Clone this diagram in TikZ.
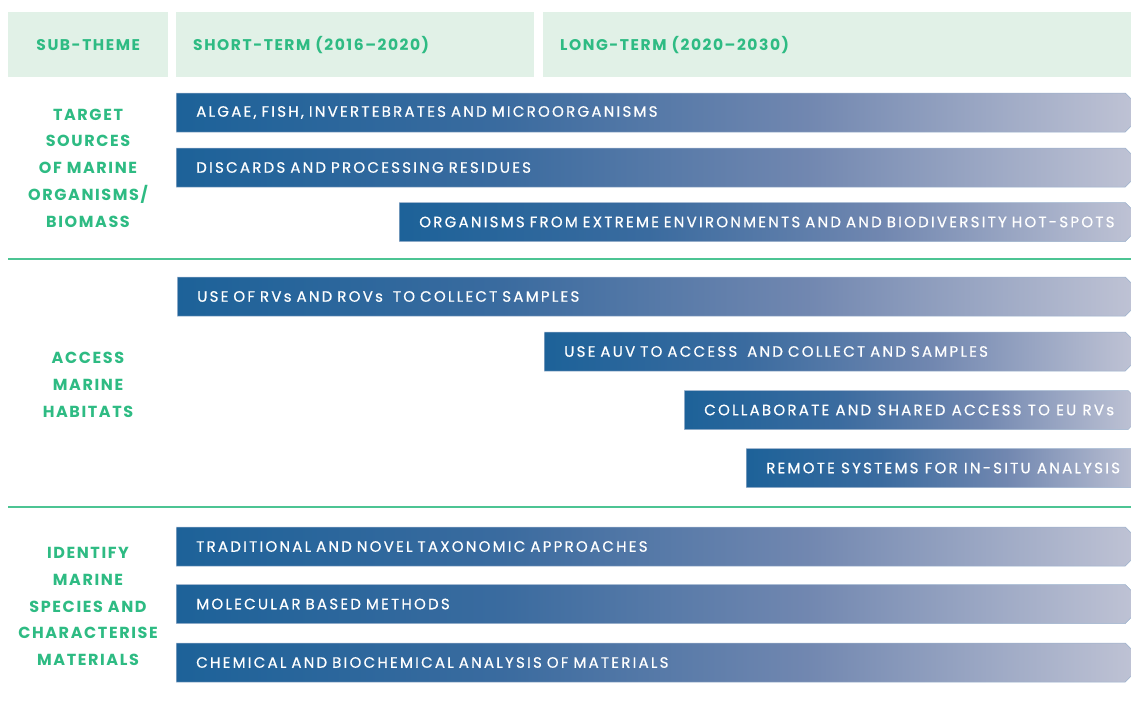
\documentclass[tikz,border=0pt]{standalone}
\usepackage{fontspec}
\usepackage{xcolor}
\usepackage{tikz}
\usetikzlibrary{positioning, shapes.misc}
\setmainfont{Poppins}
\newfontfamily\barfont{Poppins}[LetterSpace=15, FakeBold=0.6]
\newfontfamily\labelfont{Poppins}[LetterSpace=10]

\definecolor{headfill}{HTML}{E1F1E7}
\definecolor{headgreen}{HTML}{2EBB83}
\definecolor{rulegreen}{HTML}{4CC493}
\definecolor{bardark}{HTML}{1D6299}
\definecolor{barA}{HTML}{3A6B9F}
\definecolor{barB}{HTML}{7187B0}
\definecolor{barlight}{HTML}{BEC2D4}
\definecolor{barline}{HTML}{9CB2CD}

\pgfdeclarehorizontalshading{barshade}{100bp}{color(0bp)=(bardark); color(25bp)=(bardark); color(42bp)=(barA); color(58bp)=(barB); color(75bp)=(barlight); color(100bp)=(barlight)}

\begin{document}
\begin{tikzpicture}[x=1pt,y=-1pt]
\tikzstyle{head}=[rectangle, fill=headfill, anchor=north west, minimum height=65pt, inner xsep=17pt, inner ysep=0pt, text=headgreen, font=\labelfont\bfseries\fontsize{15.5}{18}\selectfont]
\tikzstyle{theme}=[align=center, text=headgreen, font=\labelfont\bfseries\fontsize{16}{26.75}\selectfont]
\tikzstyle{bar}=[chamfered rectangle, chamfered rectangle corners={north east,south east}, chamfered rectangle sep=3pt, shading=barshade, draw=barline, line width=0.5pt, anchor=west, minimum height=39pt, inner xsep=17pt, inner ysep=0pt, align=left, text=white, font=\barfont\fontsize{15}{17}\selectfont]
\tikzstyle{sep}=[draw=rulegreen, line width=2pt]
\useasboundingbox (0,0) rectangle (1131,712);

% header row
\node[head, minimum width=160pt, align=center] (subtheme) at (8,12) {SUB-THEME};
\node[head, text width=324pt, align=left] (shortterm) at (176,12) {SHORT-TERM (2016–2020)};
\node[head, text width=554pt, align=left] (longterm) at (543,12) {LONG-TERM (2020–2030)};

% target sources
\node[theme] (sources) at (88,168) {TARGET\\SOURCES\\OF MARINE\\ORGANISMS/\\BIOMASS};
\node[bar, text width=915pt] (algae) at (176,112.5) {ALGAE, FISH, INVERTEBRATES AND MICROORGANISMS};
\node[bar, text width=915pt] (discards) at (176,167.5) {DISCARDS AND PROCESSING RESIDUES};
\node[bar, text width=692pt] (extreme) at (399,222) {ORGANISMS FROM EXTREME ENVIRONMENTS AND AND BIODIVERSITY HOT-SPOTS};

\coordinate (r1a) at (8,259);
\coordinate (r1b) at (1131,259);
\draw[sep] (r1a) -- (r1b);

% access habitats
\node[theme] (habitats) at (88,385) {ACCESS\\MARINE\\HABITATS};
\node[bar, text width=914pt] (rovs) at (177,296.5) {USE OF RVs AND ROVs~ TO COLLECT SAMPLES};
\node[bar, text width=547pt] (auv) at (544,351.5) {USE AUV TO ACCESS~ AND COLLECT AND SAMPLES};
\node[bar, minimum width=447pt, align=center] (collab) at (684,410) {COLLABORATE AND SHARED ACCESS TO EU RVs};
\node[bar, minimum width=385pt, align=center] (remote) at (746,468) {REMOTE SYSTEMS FOR IN-SITU ANALYSIS};

\coordinate (r2a) at (8,507);
\coordinate (r2b) at (1131,507);
\draw[sep] (r2a) -- (r2b);

% identify species
\node[theme] (species) at (88,606.5) {IDENTIFY\\MARINE\\SPECIES AND\\CHARACTERISE\\MATERIALS};
\node[bar, text width=915pt] (taxonomy) at (176,546.5) {TRADITIONAL AND NOVEL TAXONOMIC APPROACHES};
\node[bar, text width=915pt] (molecular) at (176,604) {MOLECULAR BASED METHODS};
\node[bar, text width=915pt] (chemical) at (176,662.5) {CHEMICAL AND BIOCHEMICAL ANALYSIS OF MATERIALS};
\end{tikzpicture}
\end{document}
